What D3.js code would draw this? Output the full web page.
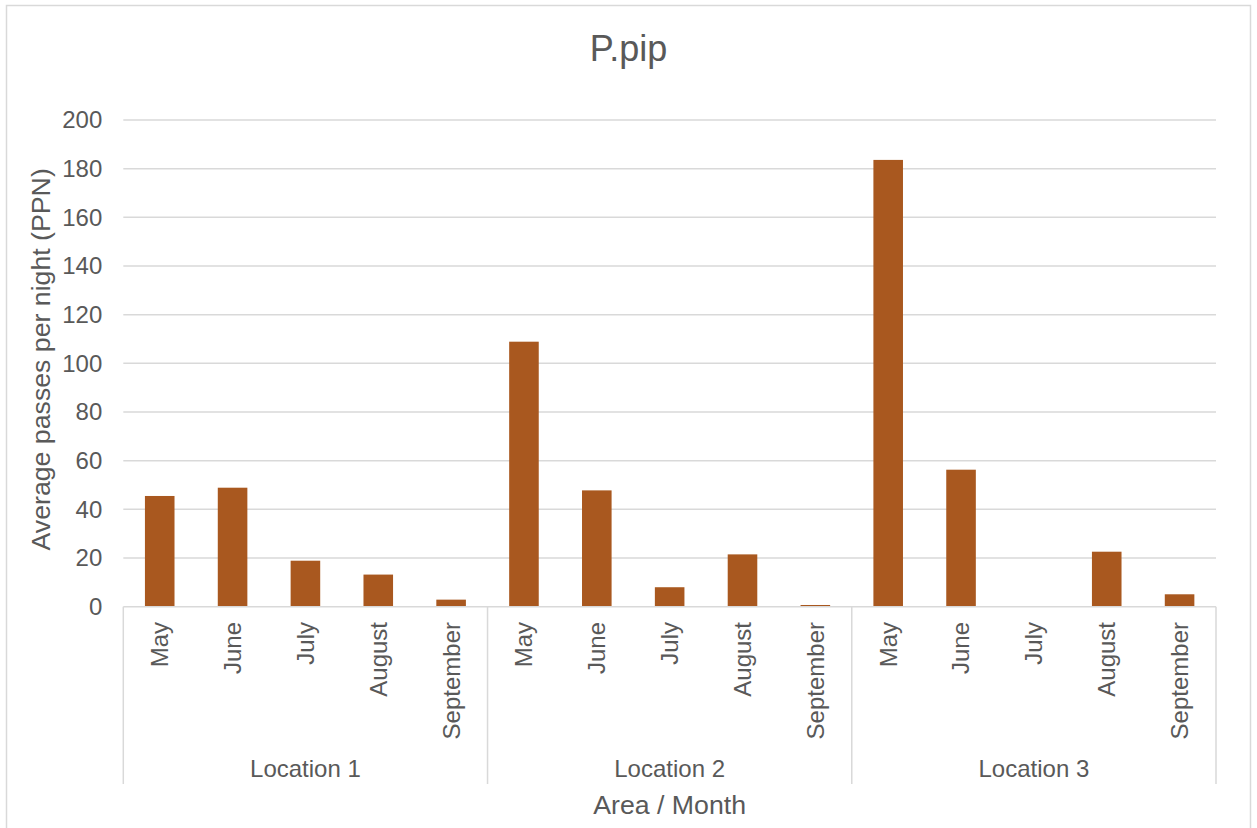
<!DOCTYPE html>
<html>
<head>
<meta charset="utf-8">
<script src="https://cdn.jsdelivr.net/npm/d3@7"></script>
<style>
  html, body { margin: 0; padding: 0; background: #fff; }
  svg { display: block; font-family: "Liberation Sans", Arial, sans-serif; }
</style>
</head>
<body>
<svg id="chart" width="1257" height="828"></svg>
<script>
// Average passes per night for P.pip, by location and month
const months = ["May", "June", "July", "August", "September"];
const locations = ["Location 1", "Location 2", "Location 3"];
const location1 = [45.5, 48.9, 18.9, 13.2, 2.9];
const location2 = [108.9, 47.8, 8.0, 21.5, 0.7];
const location3 = [183.6, 56.3, 0, 22.6, 5.1];
const yTicks = [0, 20, 40, 60, 80, 100, 120, 140, 160, 180, 200];

const seriesByLocation = [location1, location2, location3];
const rows = [];
locations.forEach((loc, li) => {
  months.forEach((m, mi) => {
    rows.push({ key: loc + "|" + m, location: loc, month: m, value: seriesByLocation[li][mi] });
  });
});

const svg = d3.select("#chart");
const textColor = "#595959";
const lineColor = "#d9d9d9";
const barColor = "#a9581f";
const labelSize = 24;
const axisTitleSize = 26.7;
const titleSize = 36;

const plot = { left: 123.3, right: 1216, top: 120, bottom: 606.7 };

// Chart frame
svg.append("rect")
  .attr("x", 6.5).attr("y", 5.5)
  .attr("width", 1244).attr("height", 840)
  .attr("fill", "#fff")
  .attr("stroke", lineColor).attr("stroke-width", 1.5);

const x = d3.scaleBand()
  .domain(rows.map(d => d.key))
  .range([plot.left, plot.right])
  .paddingInner(0.594)
  .paddingOuter(0.297);

const y = d3.scaleLinear().domain([0, 200]).range([plot.bottom, plot.top]);

// Horizontal gridlines
svg.append("g")
  .selectAll("line")
  .data(yTicks.filter(t => t > 0))
  .join("line")
  .attr("x1", plot.left).attr("x2", plot.right)
  .attr("y1", d => y(d)).attr("y2", d => y(d))
  .attr("stroke", lineColor).attr("stroke-width", 1.5);

// Y axis labels
const yAxis = svg.append("g")
  .attr("transform", `translate(${plot.left - 21},0)`)
  .call(d3.axisLeft(y).tickValues(yTicks).tickSize(0).tickPadding(0).tickFormat(d3.format("d")));
yAxis.select(".domain").remove();
yAxis.selectAll("text")
  .attr("fill", textColor)
  .attr("font-size", labelSize)
  .attr("font-family", "'Liberation Sans', Arial, sans-serif");

// Bars
svg.append("g")
  .selectAll("rect")
  .data(rows)
  .join("rect")
  .attr("x", d => x(d.key))
  .attr("width", x.bandwidth())
  .attr("y", d => y(d.value))
  .attr("height", d => y(0) - y(d.value))
  .attr("fill", barColor);

// Category axis line
svg.append("line")
  .attr("x1", plot.left).attr("x2", plot.right)
  .attr("y1", plot.bottom).attr("y2", plot.bottom)
  .attr("stroke", lineColor).attr("stroke-width", 1.5);

// Group separators between locations
const step = x.step();
const groupEdges = d3.range(locations.length + 1).map(i => plot.left + i * months.length * step);
svg.append("g")
  .selectAll("line")
  .data(groupEdges)
  .join("line")
  .attr("x1", d => d).attr("x2", d => d)
  .attr("y1", plot.bottom).attr("y2", 784)
  .attr("stroke", lineColor).attr("stroke-width", 1.5);

// Month labels (rotated)
svg.append("g")
  .selectAll("text")
  .data(rows)
  .join("text")
  .attr("transform", d => `translate(${x(d.key) + x.bandwidth() / 2},622) rotate(-90)`)
  .attr("dy", "0.35em")
  .attr("text-anchor", "end")
  .attr("fill", textColor)
  .attr("font-size", labelSize)
  .text(d => d.month);

// Location labels
svg.append("g")
  .selectAll("text")
  .data(locations)
  .join("text")
  .attr("x", (d, i) => (groupEdges[i] + groupEdges[i + 1]) / 2)
  .attr("y", 777)
  .attr("text-anchor", "middle")
  .attr("fill", textColor)
  .attr("font-size", labelSize)
  .text(d => d);

// Axis titles
svg.append("text")
  .attr("x", (plot.left + plot.right) / 2)
  .attr("y", 814)
  .attr("text-anchor", "middle")
  .attr("fill", textColor)
  .attr("font-size", axisTitleSize)
  .text("Area / Month");

svg.append("text")
  .attr("transform", `translate(50,${(plot.top + plot.bottom) / 2 - 4}) rotate(-90)`)
  .attr("text-anchor", "middle")
  .attr("fill", textColor)
  .attr("font-size", axisTitleSize)
  .text("Average passes per night (PPN)");

// Chart title
svg.append("text")
  .attr("x", 628.5)
  .attr("y", 61)
  .attr("text-anchor", "middle")
  .attr("fill", textColor)
  .attr("font-size", titleSize)
  .text("P.pip");
</script>
</body>
</html>
